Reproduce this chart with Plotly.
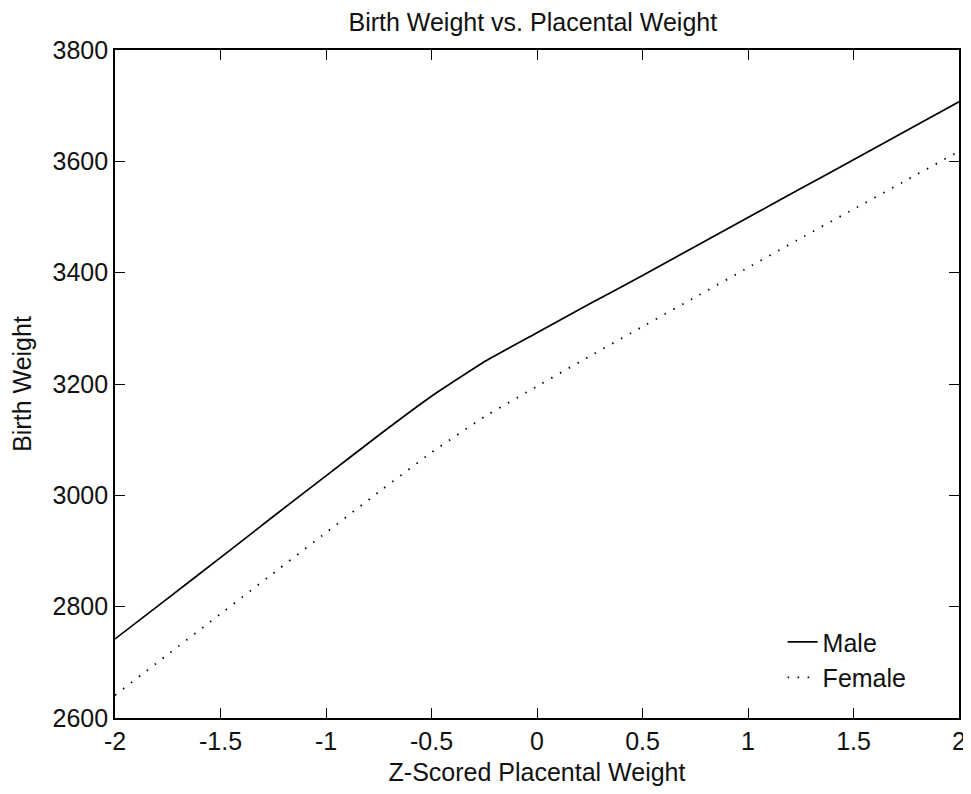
import plotly.graph_objects as go

z_scores = [-2, -1.75, -1.5, -1.25, -1, -0.75, -0.5, -0.25, 0, 0.25, 0.5, 0.75, 1, 1.25, 1.5, 1.75, 2]
male_bw = [2742, 2815, 2888, 2962, 3035, 3108, 3178, 3240, 3292, 3344, 3395, 3447, 3499, 3551, 3603, 3655, 3707]
female_bw = [2641, 2714, 2787, 2860, 2933, 3006, 3077, 3141, 3196, 3250, 3303, 3356, 3409, 3462, 3514, 3566, 3618]

x_ticks = [-2, -1.5, -1, -0.5, 0, 0.5, 1, 1.5, 2]
y_ticks = [2600, 2800, 3000, 3200, 3400, 3600, 3800]

FONT = "Liberation Sans, Arial, sans-serif"
FS = 25

fig = go.Figure()
fig.add_trace(go.Scatter(x=z_scores, y=male_bw, mode="lines", name="Male",
                         line=dict(color="black", width=1.7, shape="spline", smoothing=0.3)))
fig.add_trace(go.Scatter(x=z_scores, y=female_bw, mode="lines", name="Female",
                         line=dict(color="black", width=1.8, dash="1.5px,8.5px", shape="spline", smoothing=0.3)))

axis_common = dict(
    showgrid=False, zeroline=False, showline=True, linecolor="black", linewidth=1.6,
    mirror="ticks", ticks="inside", ticklen=10, tickwidth=1.3, tickcolor="black",
    tickfont=dict(family=FONT, size=FS, color="#111"), automargin=False,
)

fig.update_layout(
    width=963, height=786,
    paper_bgcolor="white", plot_bgcolor="white",
    margin=dict(l=107, r=12, t=42, b=76),
    title=dict(text="Birth Weight vs. Placental Weight", x=0.545, xanchor="center",
               y=0.982, yanchor="middle", font=dict(family=FONT, size=FS, color="#111")),
    xaxis=dict(range=[-2, 2], tickvals=x_ticks, ticktext=[f"{v:g}" for v in x_ticks],
               title=dict(text="Z-Scored Placental Weight", standoff=10,
                          font=dict(family=FONT, size=FS, color="#111")),
               **axis_common),
    yaxis=dict(range=[2600, 3800], tickvals=y_ticks, ticktext=[str(v) for v in y_ticks],
               title=dict(text="Birth Weight", standoff=16,
                          font=dict(family=FONT, size=FS, color="#111")),
               **axis_common),
    showlegend=True,
    legend=dict(x=0.791, y=0.148, xanchor="left", yanchor="top", bgcolor="rgba(0,0,0,0)",
                borderwidth=0, font=dict(family=FONT, size=FS, color="#111")),
)

fig.write_html("out.html")
